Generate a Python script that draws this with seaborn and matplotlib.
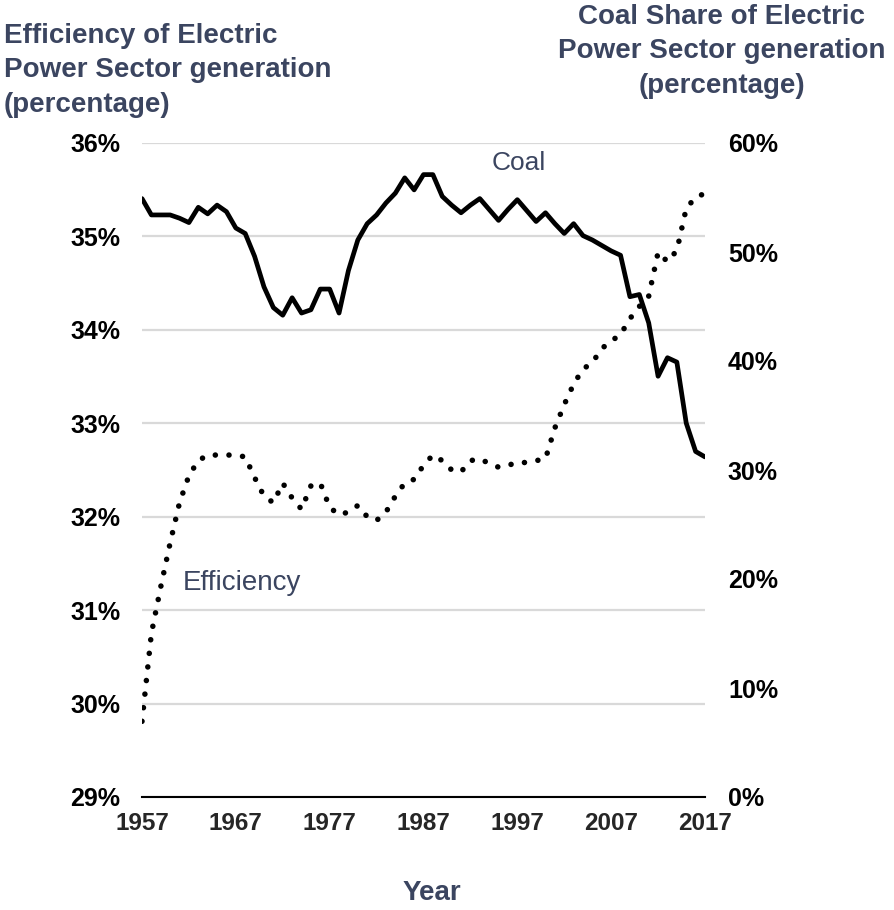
import pandas as pd
import matplotlib
matplotlib.use("Agg")
import matplotlib.pyplot as plt
import seaborn as sns

# Data
years = list(range(1957, 2018))

# efficiency of electric power sector generation (%), left axis
efficiency = [
    29.81, 30.75, 31.25, 31.72, 32.15, 32.44, 32.60, 32.66, 32.66, 32.66,
    32.66, 32.64, 32.42, 32.22, 32.15, 32.36, 32.20, 32.08, 32.33, 32.36,
    32.10, 32.02, 32.05, 32.12, 32.00, 31.96, 32.05, 32.22, 32.36, 32.40,
    32.55, 32.66, 32.60, 32.50, 32.48, 32.60, 32.62, 32.57, 32.53, 32.55,
    32.58, 32.58, 32.60, 32.62, 32.95, 33.20, 33.42, 33.58, 33.65, 33.80,
    33.88, 33.95, 34.12, 34.25, 34.36, 34.83, 34.73, 34.85, 35.30, 35.42,
    35.46,
]

# coal share of electric power sector generation (%), right axis
coal_share = [
    54.9, 53.4, 53.4, 53.4, 53.1, 52.7, 54.1, 53.5, 54.3, 53.7,
    52.2, 51.7, 49.6, 46.8, 44.9, 44.2, 45.8, 44.4, 44.7, 46.6,
    46.6, 44.4, 48.3, 51.1, 52.6, 53.4, 54.5, 55.4, 56.8, 55.7,
    57.1, 57.1, 55.1, 54.3, 53.6, 54.3, 54.9, 53.9, 52.9, 53.9,
    54.8, 53.8, 52.8, 53.6, 52.6, 51.7, 52.6, 51.5, 51.1, 50.6,
    50.1, 49.7, 45.9, 46.1, 43.5, 38.6, 40.3, 39.9, 34.3, 31.7,
    31.2,
]

left_ticks = [29, 30, 31, 32, 33, 34, 35, 36]
right_ticks = [0, 10, 20, 30, 40, 50, 60]
year_labels = [1957, 1967, 1977, 1987, 1997, 2007, 2017]

df = pd.DataFrame({"Year": years, "Efficiency": efficiency, "Coal": coal_share})

sns.set_style("white")
plt.rcParams["font.family"] = ["Liberation Sans", "DejaVu Sans"]

title_color = "#3b4560"

fig = plt.figure(figsize=(8.94, 9.10), dpi=100)
ax = fig.add_axes([142 / 894, 113 / 910, 563 / 894, 654 / 910])
ax2 = ax.twinx()

sns.lineplot(data=df, x="Year", y="Efficiency", ax=ax, color="black",
             linewidth=4, linestyle=(0, (0.01, 2.45)), dash_capstyle="round")
sns.lineplot(data=df, x="Year", y="Coal", ax=ax2, color="black",
             linewidth=3.4, solid_joinstyle="round")

ax.set_xlim(1957, 2017)
ax.set_ylim(29, 36)
ax2.set_ylim(0, 60)

ax.set_yticks(left_ticks)
ax.set_yticklabels([f"{t}%" for t in left_ticks])
ax2.set_yticks(right_ticks)
ax2.set_yticklabels([f"{t}%" for t in right_ticks])
ax.set_xticks(year_labels)
ax.set_xticklabels([str(y) for y in year_labels])
ax.set_xticks(years[::2], minor=True)

ax.grid(axis="y", color="#d9d9d9", linewidth=1.6)
ax.set_axisbelow(True)
ax.grid(axis="x", visible=False)
ax2.grid(False)

for a in (ax, ax2):
    for s in ("top", "left", "right", "bottom"):
        a.spines[s].set_visible(False)
ax.spines["bottom"].set_visible(True)
ax.spines["bottom"].set_color("black")
ax.spines["bottom"].set_linewidth(1.5)

ax.tick_params(axis="y", length=0, pad=15.5, labelsize=18, labelcolor="black")
ax2.tick_params(axis="y", length=0, pad=16.5, labelsize=18, labelcolor="black")
ax.tick_params(axis="x", which="both", direction="out", length=6, width=1.2,
               color="black", pad=5, labelsize=17.5)
for lbl in ax.get_xticklabels() + ax.get_yticklabels() + ax2.get_yticklabels():
    lbl.set_fontweight("bold")

ax.set_xlabel("")
ax.set_ylabel("")
ax2.set_ylabel("")

ax.text(1997.1, 35.79, "Coal", ha="center", va="center", fontsize=19, color=title_color)
ax.text(1967.7, 31.29, "Efficiency", ha="center", va="center", fontsize=20, color=title_color)

fig.text(4 / 894, 1 - 23 / 910,
         "Efficiency of Electric\nPower Sector generation\n(percentage)",
         ha="left", va="top", fontsize=20, fontweight="bold", color=title_color,
         linespacing=1.42)
fig.text(722 / 894, 1 - 4 / 910,
         "Coal Share of Electric\nPower Sector generation\n(percentage)",
         ha="center", va="top", fontsize=20, fontweight="bold", color=title_color,
         linespacing=1.42, multialignment="center")
fig.text(432 / 894, 1 - 893 / 910, "Year", ha="center", va="center",
         fontsize=20, fontweight="bold", color=title_color)

fig.savefig("out.png", dpi=100)
